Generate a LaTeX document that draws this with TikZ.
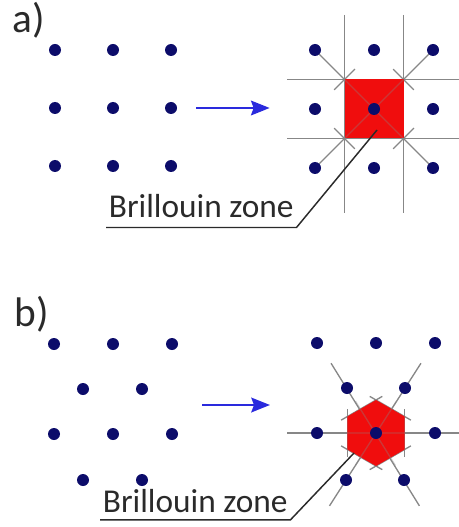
\documentclass[tikz,border=0pt]{standalone}
\usepackage{fontspec}
\setmainfont{Carlito}
\usetikzlibrary{calc,arrows.meta}
\definecolor{navy}{HTML}{0C0C6A}
\definecolor{zone}{HTML}{F00D0D}
\definecolor{wiregray}{HTML}{878787}
\definecolor{ink}{HTML}{2A2A2A}
\definecolor{push}{HTML}{2A2ADD}

\tikzset{
  dot/.style={circle,fill=navy,inner sep=0pt,minimum size=9pt},
  wire/.style={wiregray,line width=1pt},
  cell/.style={fill=zone},
  seam/.style={wiregray,line width=1pt,opacity=0.35},
  leader/.style={ink,line width=1.1pt},
  zonelbl/.style={anchor=base west,text=ink,inner xsep=2pt},
  panel/.style={anchor=base west,text=ink,font=\fontsize{31}{36}\selectfont},
  pusharrow/.style={push,line width=1.8pt,-{Stealth[length=14pt,width=11pt,inset=2pt]}}
}

\begin{document}
\begin{tikzpicture}[x=0.75pt,y=-0.75pt,font=\fontsize{25}{30}\selectfont]
  \useasboundingbox (0,0) rectangle (459,527);

  % a) square lattice
  \node[panel] (pa) at (8,33) {a)};
  \foreach \i/\x in {0/55,1/113,2/171}
    \foreach \j/\y in {0/50,1/108,2/166}
      \coordinate (sl-\i\j) at (\x,\y);
  \foreach \i/\x in {0/315,1/374,2/433}
    \foreach \j/\y in {0/50,1/109,2/168}
      \coordinate (sr-\i\j) at (\x,\y);
  \coordinate (sq-ul) at ($(sr-11)!.5!(sr-00)$);
  \coordinate (sq-lr) at ($(sr-11)!.5!(sr-22)$);
  \coordinate (sq-ur) at ($(sr-11)!.5!(sr-20)$);
  \coordinate (sq-ll) at ($(sr-11)!.5!(sr-02)$);
  % bisectors
  \draw[wire] (sq-ul |- 0,15) -- (sq-ul |- 0,213);
  \draw[wire] (sq-lr |- 0,15) -- (sq-lr |- 0,213);
  \draw[wire] (287,0 |- sq-ul) -- (459,0 |- sq-ul);
  \draw[wire] (287,0 |- sq-lr) -- (459,0 |- sq-lr);
  \draw[wire] (sr-00) -- (sr-22);
  \draw[wire] (sr-20) -- (sr-02);
  \foreach \c/\n in {ul/00,lr/22,ur/20,ll/02}
    \draw[wire] ($(sq-\c)!11pt!90:(sr-\n)$) -- ($(sq-\c)!11pt!-90:(sr-\n)$);
  \fill[cell] (sq-ul) rectangle (sq-lr);
  \draw[seam] (sq-ul) -- (sq-lr) (sq-ur) -- (sq-ll);
  \draw[pusharrow] ([xshift=19pt]sl-21) -- ([xshift=-34pt]sl-21 -| sr-01);
  \node[zonelbl,inner ysep=7.5pt] (bza) at (106,217) {Brillouin zone};
  \coordinate (tipa) at ($(sr-11)+(3,21)$);
  \draw[leader] (bza.south west) -- (bza.south east) -- (tipa);
  \foreach \i in {0,1,2}
    \foreach \j in {0,1,2} {
      \node[dot] (dl-\i\j) at (sl-\i\j) {};
      \node[dot] (dr-\i\j) at (sr-\i\j) {};
    }

  % b) hexagonal lattice
  \node[panel] (pb) at (10,326) {b)};
  \foreach \n/\x/\y in {a/54/344,b/113/344,c/172/344,d/83/389,e/142/389,
                        f/54/434,g/113/434,h/172/434,i/83/480,j/142/480}
    \coordinate (hl-\n) at (\x,\y);
  \foreach \n/\x/\y in {a/317/343,b/376/343,c/435/343,ul/347/388,ur/405/388,
                        l/317/433,c0/376/433,r/435/433,ll/346/480,lr/404/480}
    \coordinate (hr-\n) at (\x,\y);
  \foreach \a in {30,90,...,330}
    \coordinate (hx-\a) at ($(hr-c0)+(\a:33)$);
  \draw[wire] ($(hr-c0)+(-89,0)$) -- ($(hr-c0)+(83,0)$);
  \draw[wire] ($(hr-c0)!1.55!(hr-ul)$) -- ($(hr-c0)!1.55!(hr-lr)$);
  \draw[wire] ($(hr-c0)!1.55!(hr-ur)$) -- ($(hr-c0)!1.55!(hr-ll)$);
  \foreach \a/\b in {30/90,90/150,150/210,210/270,270/330,330/30}
    \draw[wire] ($(hx-\a)!-0.22!(hx-\b)$) -- ($(hx-\b)!-0.22!(hx-\a)$);
  \fill[cell] (hx-30) -- (hx-90) -- (hx-150) -- (hx-210) -- (hx-270) -- (hx-330) -- cycle;
  \draw[seam] (hr-c0 -| hx-150) -- (hr-c0 -| hx-30)
    ($(hr-c0)!28.5pt!(hr-ul)$) -- ($(hr-c0)!28.5pt!(hr-lr)$)
    ($(hr-c0)!28.5pt!(hr-ur)$) -- ($(hr-c0)!28.5pt!(hr-ll)$);
  \coordinate (arb0) at (202,405);
  \coordinate (arb1) at (270,405);
  \draw[pusharrow] (arb0) -- (arb1);
  \node[zonelbl,inner ysep=5.5pt] (bzb) at (100,512) {Brillouin zone};
  \coordinate (tipb) at ($(hr-c0)+(-22,20)$);
  \draw[leader] (bzb.south west) -- (bzb.south east) -- (tipb);
  \foreach \n in {a,b,c,d,e,f,g,h,i,j}
    \node[dot] (dhl-\n) at (hl-\n) {};
  \foreach \n in {a,b,c,ul,ur,l,c0,r,ll,lr}
    \node[dot] (dhr-\n) at (hr-\n) {};
\end{tikzpicture}
\end{document}
